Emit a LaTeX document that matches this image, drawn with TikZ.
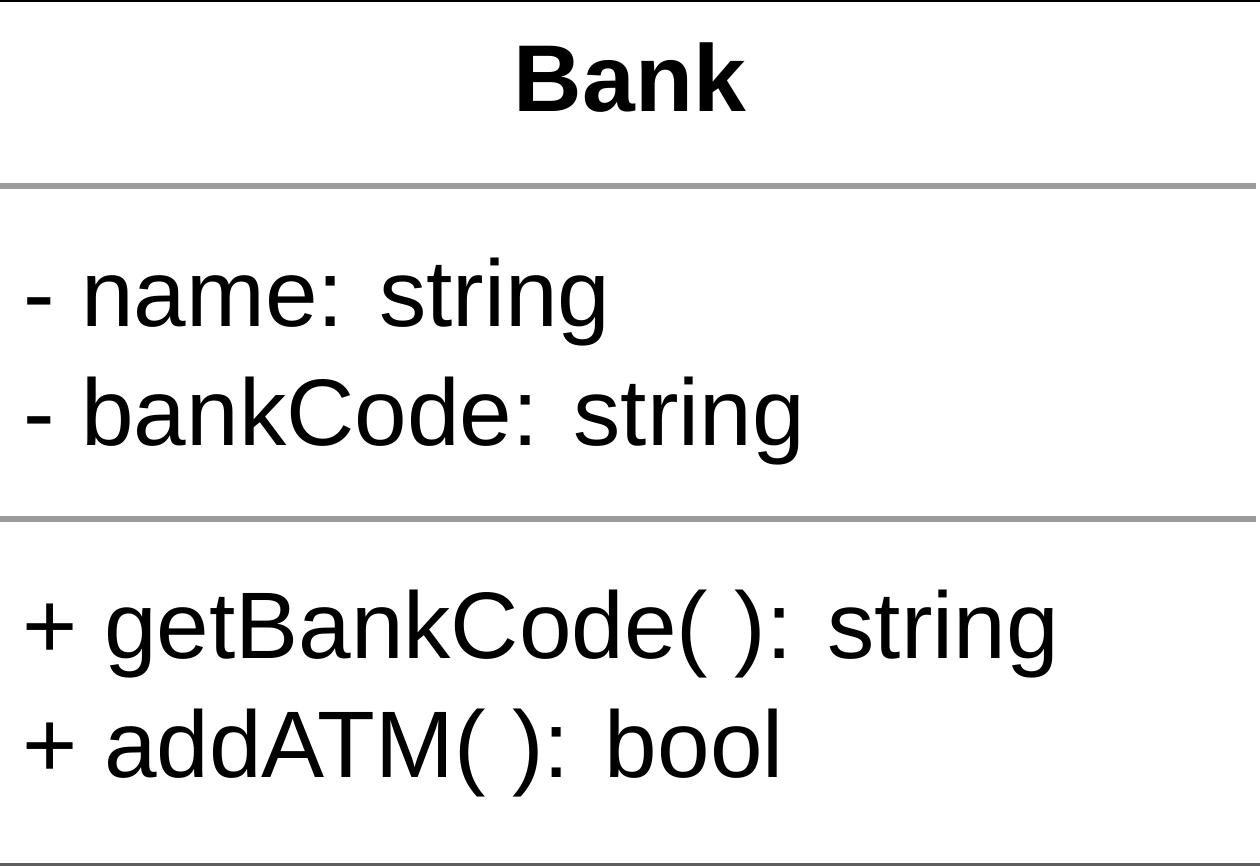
\documentclass[tikz,border=0pt]{standalone}
\usepackage{fontspec}
\setmainfont{Liberation Sans}
\usetikzlibrary{positioning}
\definecolor{sepgray}{HTML}{9C9C9C}
\definecolor{edgegray}{HTML}{5E5E5E}
\tikzset{
  member/.style={anchor=base west, inner sep=0pt, font=\fontsize{26.9pt}{33pt}\selectfont},
  classname/.style={anchor=base, inner sep=0pt, font=\fontsize{27pt}{33pt}\selectfont\bfseries},
  sepline/.style={draw=sepgray, line width=1.7pt}
}
\begin{document}
\begin{tikzpicture}
            % Bank class box (cropped)
            \useasboundingbox (0, 0) rectangle (12.6, 8.66);
            \draw[black, line width=0.6pt] (0, 8.65) -- (12.6, 8.65);
            \draw[edgegray, line width=0.6pt] (0, 0.015) -- (12.6, 0.015);
            \draw[sepline] (0, 6.80) -- (12.56, 6.80);
            \draw[sepline] (0, 3.47) -- (12.56, 3.47);
            \node[classname] (title) at (6.30, 7.54) {Bank};
            \node[member] (attrName) at (0.23, 5.39) {- name: string};
            \node[member] (attrCode) at (0.23, 4.20) {- bankCode: string};
            \node[member] (opCode) at (0.22, 2.07) {+ getBankCode( ): string};
            \node[member] (opAtm) at (0.22, 0.88) {+ addATM( ): bool};
        \end{tikzpicture}
\end{document}
